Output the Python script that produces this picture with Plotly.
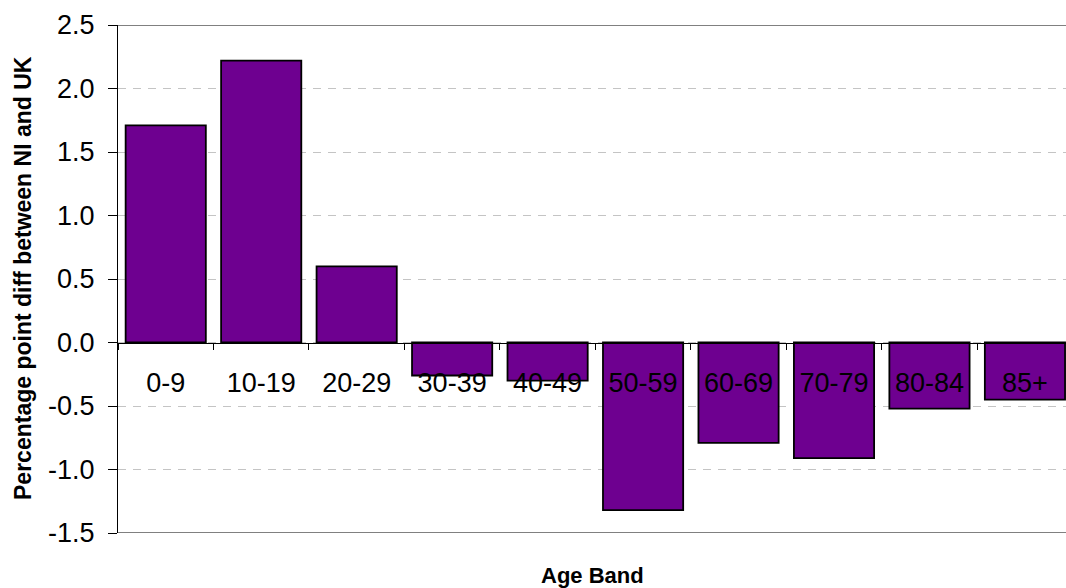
import plotly.graph_objects as go

# Age bands and the percentage-point difference between NI and UK
age_bands = ["0-9", "10-19", "20-29", "30-39", "40-49",
             "50-59", "60-69", "70-79", "80-84", "85+"]
pp_diff = [1.71, 2.22, 0.60, -0.26, -0.30, -1.32, -0.79, -0.91, -0.52, -0.45]

y_tick_vals = [-1.5, -1.0, -0.5, 0.0, 0.5, 1.0, 1.5, 2.0, 2.5]
y_tick_text = ["-1.5", "-1.0", "-0.5", "0.0", "0.5", "1.0", "1.5", "2.0", "2.5"]

BAR_COLOR = "#6E0090"
FONT = "Liberation Sans, Arial, sans-serif"

fig = go.Figure(
    go.Bar(
        x=age_bands,
        y=pp_diff,
        marker=dict(color=BAR_COLOR, line=dict(color="#000000", width=1.8)),
        hoverinfo="x+y",
    )
)

y_min, y_max = -1.5, 2.5
# fraction of the plot height where y = 0 sits, used to hang the category axis there
zero_pos = (0 - y_min) / (y_max - y_min)

fig.update_layout(
    width=1066,
    height=588,
    margin=dict(l=118, r=0, t=25, b=55),
    paper_bgcolor="white",
    plot_bgcolor="white",
    showlegend=False,
    bargap=0.16,
    font=dict(family=FONT, color="#000000"),
    xaxis=dict(
        type="category",
        range=[-0.5, 9.43],
        anchor="free",
        position=zero_pos,
        showline=True,
        linecolor="#000000",
        linewidth=1.2,
        ticks="outside",
        tickson="boundaries",
        ticklen=6,
        tickcolor="#000000",
        tickwidth=1,
        ticklabelstandoff=16,
        tickfont=dict(size=27, family=FONT, color="#000000"),
        showgrid=False,
        zeroline=False,
        layer="above traces",
    ),
    yaxis=dict(
        range=[y_min, y_max],
        tickvals=y_tick_vals,
        ticktext=y_tick_text,
        tickfont=dict(size=27, family=FONT, color="#000000"),
        ticks="outside",
        ticklen=9,
        tickcolor="#000000",
        ticklabelstandoff=8,
        showline=True,
        linecolor="#000000",
        linewidth=1.2,
        showgrid=True,
        gridcolor="#C4C4C4",
        gridwidth=1,
        griddash="8px,7px",
        zeroline=False,
    ),
    shapes=[
        # plot-area frame lines at top and bottom
        dict(type="line", xref="paper", yref="y", x0=0, x1=1, y0=y_max, y1=y_max,
             line=dict(color="#808080", width=2)),
        dict(type="line", xref="paper", yref="y", x0=0, x1=1, y0=y_min, y1=y_min,
             line=dict(color="#808080", width=2)),
    ],
    annotations=[
        dict(
            text="<b>Age Band</b>",
            xref="paper", yref="paper",
            x=0.5, y=0, yshift=-42,
            xanchor="center", yanchor="middle",
            showarrow=False,
            font=dict(size=22, family=FONT, color="#000000"),
        ),
        dict(
            text="<b>Percentage point diff between NI and UK</b>",
            xref="paper", yref="paper",
            x=0, xshift=-95, y=0.502,
            xanchor="center", yanchor="middle",
            textangle=-90,
            showarrow=False,
            font=dict(size=23, family=FONT, color="#000000"),
        ),
    ],
)

fig.write_html("out.html")
